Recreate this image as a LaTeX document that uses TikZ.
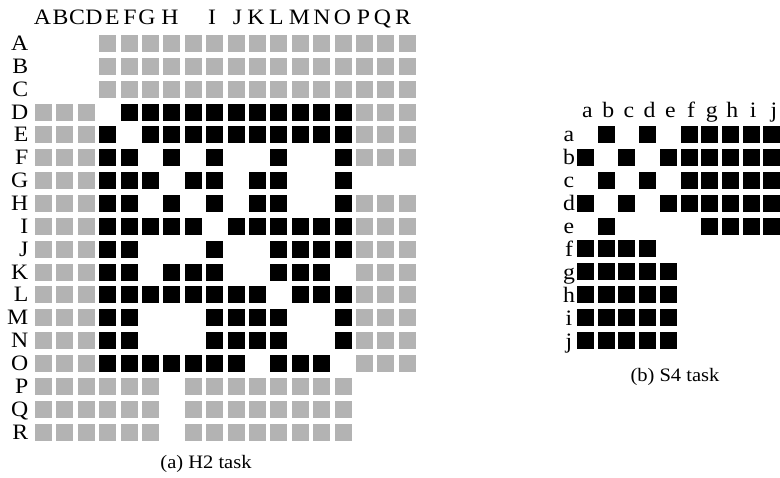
\documentclass[tikz,border=0pt]{standalone}
\usepackage{fontspec}
\setmainfont{Liberation Serif}[FakeStretch=1.08]
\usepackage{tikz}
\definecolor{CellGray}{HTML}{B3B3B3}
\tikzset{
  cell/.style={minimum size=17pt,inner sep=0pt,outer sep=0pt},
  graycell/.style={cell,fill=CellGray},
  blackcell/.style={cell,fill=black},
  gridlabel/.style={font=\fontsize{22}{22}\selectfont,inner sep=0pt},
  smalllabel/.style={font=\fontsize{22}{22}\selectfont,inner sep=0pt},
  caption/.style={font=\fontsize{19}{19}\selectfont,inner sep=0pt}
}

\begin{document}
\begin{tikzpicture}[x=1pt,y=-1pt]
  \useasboundingbox (0,0) rectangle (780,478);
  % H2 task: 0 = empty, 1 = gray, 2 = black
  \foreach \lab/\hx [count=\k] in {A/42.5,B/60.5,C/77,D/94,E/112.5,F/130,G/147,H/170,I/212,
      J/237.5,K/256,L/276.5,M/299.5,N/322,O/342.5,P/363.5,Q/382.5,R/403}
    \node[gridlabel,anchor=base] (h2col-\k) at (\hx,25) {\lab};
  \foreach \lab/\pat [count=\r] in {
      A/{0,0,0,1,1,1,1,1,1,1,1,1,1,1,1,1,1,1},
      B/{0,0,0,1,1,1,1,1,1,1,1,1,1,1,1,1,1,1},
      C/{0,0,0,1,1,1,1,1,1,1,1,1,1,1,1,1,1,1},
      D/{1,1,1,0,2,2,2,2,2,2,2,2,2,2,2,1,1,1},
      E/{1,1,1,2,0,2,2,2,2,2,2,2,2,2,2,1,1,1},
      F/{1,1,1,2,2,0,2,0,2,0,0,2,0,0,2,1,1,1},
      G/{1,1,1,2,2,2,0,2,2,0,2,2,0,0,2,0,0,0},
      H/{1,1,1,2,2,0,2,0,2,0,2,2,0,0,2,1,1,1},
      I/{1,1,1,2,2,2,2,2,0,2,2,2,2,2,2,1,1,1},
      J/{1,1,1,2,2,0,0,0,2,0,0,2,2,2,2,1,1,1},
      K/{1,1,1,2,2,0,2,2,2,0,0,2,2,2,0,1,1,1},
      L/{1,1,1,2,2,2,2,2,2,2,2,0,2,2,2,1,1,1},
      M/{1,1,1,2,2,0,0,0,2,2,2,2,0,0,2,1,1,1},
      N/{1,1,1,2,2,0,0,0,2,2,2,2,0,0,2,1,1,1},
      O/{1,1,1,2,2,2,2,2,2,2,0,2,2,2,0,1,1,1},
      P/{1,1,1,1,1,1,0,1,1,1,1,1,1,1,1,0,0,0},
      Q/{1,1,1,1,1,1,0,1,1,1,1,1,1,1,1,0,0,0},
      R/{1,1,1,1,1,1,0,1,1,1,1,1,1,1,1,0,0,0}} {
    \node[gridlabel,anchor=base east] (h2row-\r) at (28.5,{43.5+22.86*(\r-1)+7}) {\lab};
    \foreach \cellv [count=\k] in \pat {
      \ifcase\cellv\relax
      \or \node[graycell] (h2-\r-\k) at ({43.5+21.4*(\k-1)},{43.5+22.86*(\r-1)}) {};
      \or \node[blackcell] (h2-\r-\k) at ({43.5+21.4*(\k-1)},{43.5+22.86*(\r-1)}) {};
      \fi
    }
  }
  \node[caption,anchor=base] (h2cap) at (206,469) {(a) H2 task};

  % S4 task
  \foreach \lab [count=\k] in {a,b,c,d,e,f,g,h,i,j}
    \node[smalllabel,anchor=base] (s4col-\k) at ({587.5+20.7*(\k-1)},118) {\lab};
  \foreach \lab/\pat [count=\r] in {
      a/{0,2,0,2,0,2,2,2,2,2},
      b/{2,0,2,0,2,2,2,2,2,2},
      c/{0,2,0,2,0,2,2,2,2,2},
      d/{2,0,2,0,2,2,2,2,2,2},
      e/{0,2,0,0,0,0,2,2,2,2},
      f/{2,2,2,2,0,0,0,0,0,0},
      g/{2,2,2,2,2,0,0,0,0,0},
      h/{2,2,2,2,2,0,0,0,0,0},
      i/{2,2,2,2,2,0,0,0,0,0},
      j/{2,2,2,2,2,0,0,0,0,0}} {
    \node[smalllabel,anchor=base] (s4row-\r) at (569,{134.5+22.9*(\r-1)+7.5}) {\lab};
    \foreach \cellv [count=\k] in \pat {
      \ifnum\cellv=2
        \node[blackcell] (s4-\r-\k) at ({585.5+20.7*(\k-1)},{134.5+22.9*(\r-1)}) {};
      \fi
    }
  }
  \node[caption,anchor=base] (s4cap) at (675,382) {(b) S4 task};
\end{tikzpicture}
\end{document}
